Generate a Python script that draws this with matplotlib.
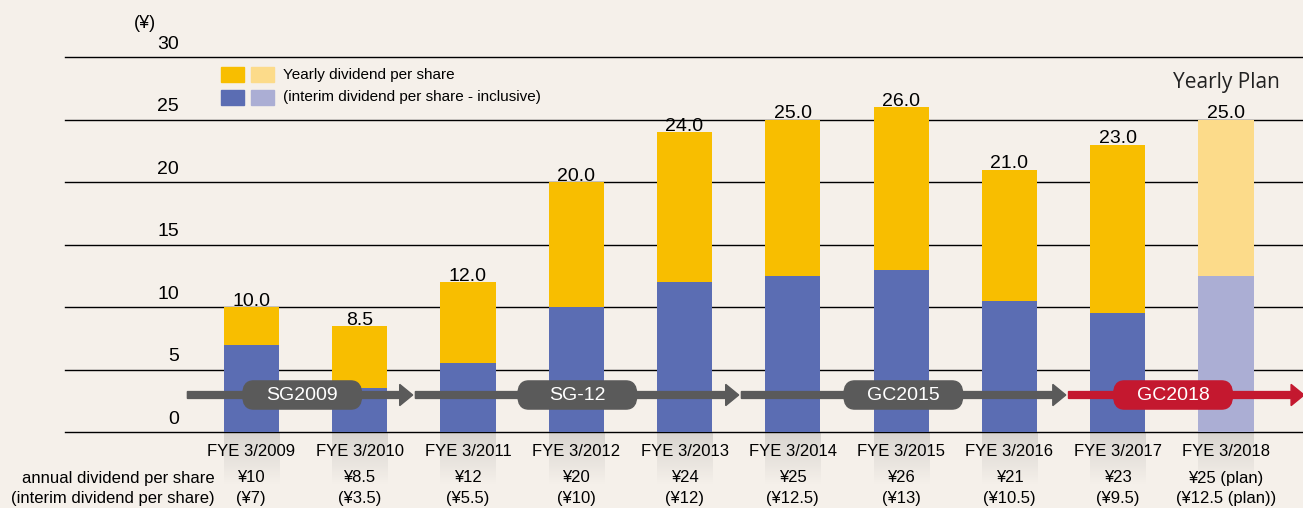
import matplotlib
matplotlib.use("Agg")
import matplotlib.pyplot as plt
import numpy as np
from matplotlib.patches import FancyBboxPatch, FancyArrow
import matplotlib.transforms as mtransforms

plt.rcParams['font.family'] = ['Liberation Sans', 'DejaVu Sans']

years = ["FYE 3/2009", "FYE 3/2010", "FYE 3/2011", "FYE 3/2012", "FYE 3/2013",
         "FYE 3/2014", "FYE 3/2015", "FYE 3/2016", "FYE 3/2017", "FYE 3/2018"]
annual = [10, 8.5, 12, 20, 24, 25, 26, 21, 23, 25]
interim = [7, 3.5, 5.5, 10, 12, 12.5, 13, 10.5, 9.5, 12.5]
annual_txt = ["¥10", "¥8.5", "¥12", "¥20", "¥24", "¥25", "¥26", "¥21", "¥23", "¥25 (plan)"]
interim_txt = ["(¥7)", "(¥3.5)", "(¥5.5)", "(¥10)", "(¥12)", "(¥12.5)", "(¥13)",
               "(¥10.5)", "(¥9.5)", "(¥12.5 (plan))"]
yticks = [0, 5, 10, 15, 20, 25, 30]
plans = ["SG2009", "SG-12", "GC2015", "GC2018"]
plan_centers = [0.47, 3.01, 6.02, 8.51]
plan_spans = [(-0.59, 1.49), (1.515, 4.50), (4.525, 7.52), (7.545, 9.72)]

BG = "#F5F0EA"
YEL, YEL_L = "#F8BE00", "#FCDB8A"
BLU, BLU_L = "#5B6DB3", "#ABAED4"
GRAY, RED = "#5A5A5A", "#C4182F"

fig = plt.figure(figsize=(13.03, 5.08), dpi=100, facecolor=BG)
ax = fig.add_axes([65/1303, 1-432/508, 1-65/1303, (432-57)/508])
ax.set_facecolor(BG)
for s in ax.spines.values():
    s.set_visible(False)
ax.set_xticks([])
ax.set_yticks([])

for t in yticks:
    ax.axhline(t, color="black", lw=1.0, zorder=1, clip_on=False)

n = len(years)
x = list(range(n))
w = 0.51
top_col = [YEL] * (n - 1) + [YEL_L]
bot_col = [BLU] * (n - 1) + [BLU_L]
upper = [a - i for a, i in zip(annual, interim)]
ax.bar(x, interim, width=w, color=bot_col, zorder=2)
ax.bar(x, upper, bottom=interim, width=w, color=top_col, zorder=2)

# faint reflection below bars
grad = np.zeros((64, 1, 4))
grad[:, 0, :3] = 0.35
grad[:, 0, 3] = np.linspace(0.18, 0.0, 64)
for xi in x:
    ax.imshow(grad, extent=(xi - w/2, xi + w/2, -4.2, -0.05), aspect='auto',
              origin='upper', zorder=0.5, clip_on=False, interpolation='bilinear')

ax.set_xlim(-1.72, 9.71)
ax.set_ylim(0, 30)

off = mtransforms.offset_copy(ax.transData, fig=fig, x=0, y=-2, units='points')
for xi, a in zip(x, annual):
    ax.text(xi, a, f"{a:.1f}", ha="center", va="bottom", fontsize=14,
            transform=off, zorder=5)
ax.text(9, 27.1, "Yearly Plan", ha="center", va="bottom", fontsize=15,
        family=["Open Sans", "DejaVu Sans"], color="#222222")

# y tick labels
ytr = mtransforms.blended_transform_factory(fig.transFigure, ax.transData)
for t in yticks:
    ax.text(179/1303, t + 0.35, str(t), ha="right", va="bottom", fontsize=14,
            transform=ytr)
fig.text(145/1303, 1-23/508, "(¥)", ha="center", va="center", fontsize=13)

# legend
for (cx, cy, col) in [(221, 67, YEL), (251, 67, YEL_L), (221, 90, BLU), (251, 90, BLU_L)]:
    fig.patches.append(plt.Rectangle((cx/1303, 1-(cy+15)/508), 23/1303, 15/508,
                                     color=col, transform=fig.transFigure))
fig.text(283/1303, 1-75/508, "Yearly dividend per share", va="center", fontsize=11)
fig.text(283/1303, 1-97/508, "(interim dividend per share - inclusive)", va="center", fontsize=11)

# arrows
ya = 2.96
for k, (x0, x1) in enumerate(plan_spans):
    col = RED if k == 3 else GRAY
    ax.add_patch(FancyArrow(x0, ya, x1 - x0, 0, width=0.55, head_width=1.7,
                            head_length=0.12, length_includes_head=True,
                            color=col, zorder=3, clip_on=False))
for k, (name, c) in enumerate(zip(plans, plan_centers)):
    col = RED if k == 3 else GRAY
    pw, ph = 1.1, 2.25
    ax.add_patch(FancyBboxPatch((c - pw/2, ya - ph/2), pw, ph,
                                boxstyle="round,pad=0,rounding_size=0.1",
                                mutation_aspect=11.5,
                                color=col, zorder=4, clip_on=False))
    ax.text(c, ya, name, ha="center", va="center", color="white",
            fontsize=14, zorder=5)

# bottom labels
xtr = mtransforms.blended_transform_factory(ax.transData, fig.transFigure)
for xi, yl, at, it in zip(x, years, annual_txt, interim_txt):
    ax.text(xi, 1-452/508, yl, ha="center", va="center", fontsize=12, transform=xtr)
    ax.text(xi, 1-478/508, at, ha="center", va="center", fontsize=12, transform=xtr)
    ax.text(xi, 1-499/508, it, ha="center", va="center", fontsize=12, transform=xtr)
fig.text(215/1303, 1-478/508, "annual dividend per share", ha="right", va="center", fontsize=12)
fig.text(215/1303, 1-499/508, "(interim dividend per share)", ha="right", va="center", fontsize=12)

fig.savefig("out.png", dpi=100, facecolor=BG)
